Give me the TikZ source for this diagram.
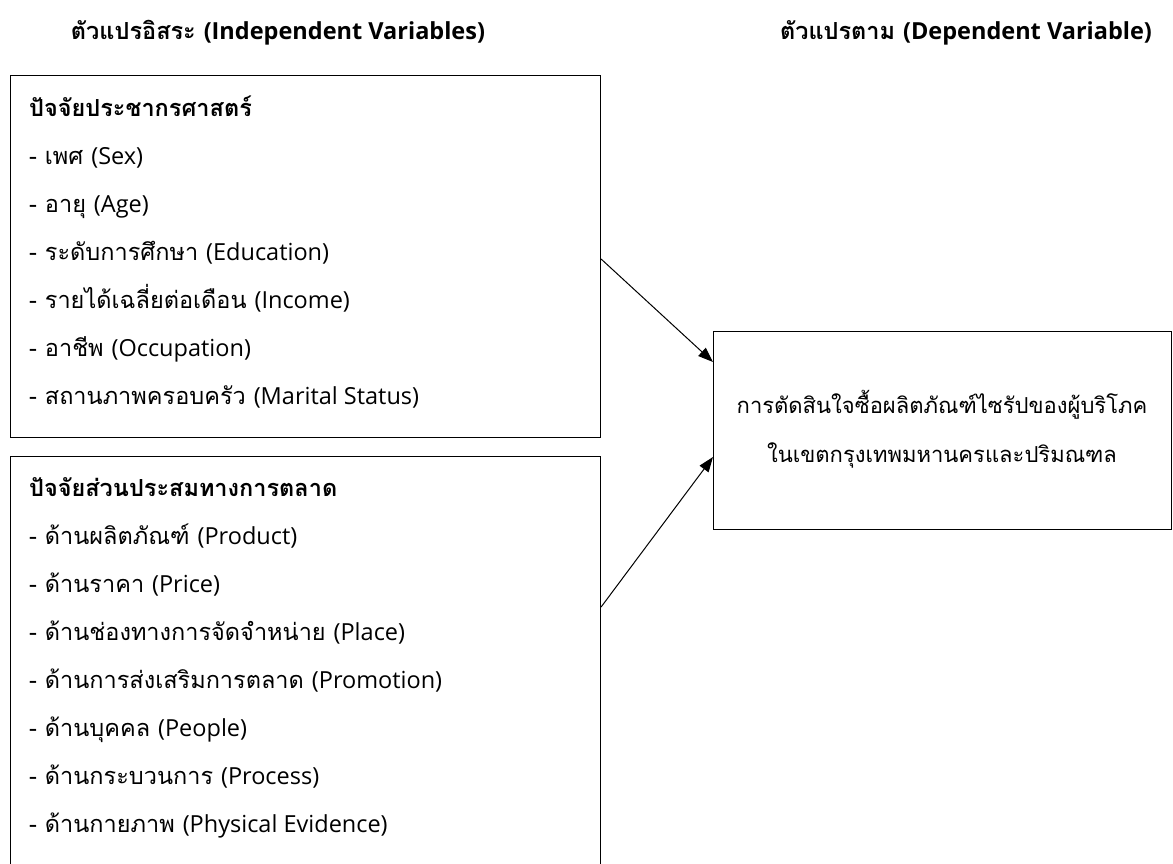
\documentclass[tikz,border=0pt]{standalone}
\usepackage{fontspec}
\setmainfont[Script=Thai]{Loma}
\newfontfamily\enfont[Scale=1.0]{Open Sans}
\newcommand\entext[1]{{\enfont #1}}
\usetikzlibrary{arrows.meta}

\tikzset{
  head/.style={font=\fontsize{23.5}{26}\selectfont\bfseries, anchor=base, inner sep=0pt},
  item/.style={font=\fontsize{23.5}{26}\selectfont, anchor=base west, inner sep=0pt},
  frame/.style={draw, line width=1.1pt, inner sep=0pt, anchor=north west},
  link/.style={-{Triangle[length=15pt,width=11pt]}, line width=1pt},
}

\begin{document}
\begin{tikzpicture}[x=1pt, y=-1pt]
  \useasboundingbox (0,0) rectangle (1173,863);
  \clip (0,0) rectangle (1173,863);

  % column headings
  \node[head] (hind) at (278,39) {ตัวแปรอิสระ \entext{(Independent Variables)}};
  \node[head] (hdep) at (966,39) {ตัวแปรตาม \entext{(Dependent Variable)}};

  % boxes
  \node[frame, minimum width=590pt, minimum height=362pt] (demo) at (10,75) {};
  \node[frame, minimum width=590pt, minimum height=450pt] (mix) at (10,456) {};
  \node[frame, minimum width=458pt, minimum height=198pt] (dec) at (713,331) {};

  % demographic factors
  \node[item, font=\fontsize{23.5}{26}\selectfont\bfseries] (demot) at (29,116) {ปัจจัยประชากรศาสตร์};
  \foreach \txt [count=\i] in {- เพศ \entext{(Sex)}, - อายุ \entext{(Age)}, - ระดับการศึกษา \entext{(Education)},
      - รายได้เฉลี่ยต่อเดือน \entext{(Income)}, - อาชีพ \entext{(Occupation)}, - สถานภาพครอบครัว \entext{(Marital Status)}}
    \node[item] (demo\i) at (29,{116+48*\i}) {\txt};

  % marketing mix
  \node[item, font=\fontsize{23.5}{26}\selectfont\bfseries] (mixt) at (29,496) {ปัจจัยส่วนประสมทางการตลาด};
  \foreach \txt [count=\i] in {- ด้านผลิตภัณฑ์ \entext{(Product)}, - ด้านราคา \entext{(Price)},
      - ด้านช่องทางการจัดจำหน่าย \entext{(Place)}, - ด้านการส่งเสริมการตลาด \entext{(Promotion)},
      - ด้านบุคคล \entext{(People)}, - ด้านกระบวนการ \entext{(Process)}, - ด้านกายภาพ \entext{(Physical Evidence)}}
    \node[item] (mix\i) at (29,{496+48*\i}) {\txt};

  % dependent variable
  \node[head, font=\fontsize{22}{24}\selectfont] (dec1) at (942,413) {การตัดสินใจซื้อผลิตภัณฑ์ไซรัปของผู้บริโภค};
  \node[head, font=\fontsize{22}{24}\selectfont] (dec2) at (942,462) {ในเขตกรุงเทพมหานครและปริมณฑล};

  \draw[link] ([yshift=-184pt]demo.north east) -- ([yshift=-31pt]dec.north west);
  \draw[link] ([yshift=-151pt]mix.north east) -- ([yshift=-126pt]dec.north west);
\end{tikzpicture}
\end{document}
